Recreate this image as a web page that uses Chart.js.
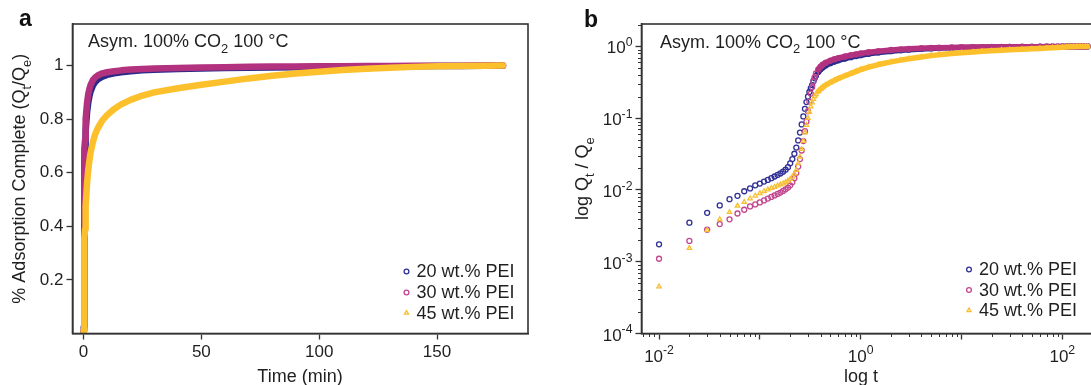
<!DOCTYPE html>
<html><head><meta charset="utf-8">
<script src="https://cdn.jsdelivr.net/npm/chart.js@4.4.1/dist/chart.umd.min.js"></script>
<style>
html,body{margin:0;padding:0;background:#fff;overflow:hidden;width:1091px;height:385px;position:relative;}
#ca{position:absolute;left:0;top:0;}
#cb{position:absolute;left:545px;top:0;}
</style></head><body>
<canvas id="ca" width="545" height="385"></canvas>
<canvas id="cb" width="570" height="385"></canvas>
<script>
// ---------------- data ----------------
const seriesLabels = ['20 wt.% PEI', '30 wt.% PEI', '45 wt.% PEI'];
const timeMin = [0.01,0.02,0.03,0.04,0.05,0.06,0.07,0.08,0.09,0.1,
  0.11,0.12,0.13,0.14,0.15,0.16,0.17,0.18,0.19,0.2,
  0.21,0.22,0.23,0.24,0.25,0.26,0.27,0.28,0.29,0.3,
  0.31,0.32,0.33,0.34,0.35,0.36,0.38,0.4,0.42,0.45,
  0.5,0.55,0.6,0.7,0.8,0.9,1,1.2,1.5,2,
  2.5,3,4,5,6,8,10,13,16,20,
  25,30,40,50,60,70,80,90,100,110,
  120,130,140,150,160,170,178];
const q20 = [0.00175,0.0035,0.0048,0.0061,0.00745,0.0083,0.0096,0.0105,0.0116,0.0123,
  0.0131,0.0138,0.0146,0.0154,0.0162,0.017,0.018,0.0192,0.0208,0.0235,
  0.027,0.032,0.039,0.049,0.063,0.082,0.106,0.135,0.168,0.2,
  0.232,0.262,0.29,0.33,0.36,0.39,0.44,0.48,0.51,0.545,
  0.585,0.615,0.64,0.68,0.71,0.735,0.755,0.79,0.825,0.86,
  0.885,0.903,0.925,0.939,0.948,0.958,0.965,0.971,0.975,0.979,
  0.982,0.984,0.987,0.989,0.991,0.992,0.993,0.994,0.995,0.996,
  0.996,0.997,0.997,0.998,0.998,0.999,0.999];
const q30 = [0.0011,0.00195,0.0028,0.00335,0.0039,0.0047,0.0053,0.0059,0.0063,0.0067,
  0.00715,0.0076,0.008,0.0084,0.0088,0.0092,0.0097,0.0102,0.0108,0.0116,
  0.0128,0.0146,0.0172,0.0212,0.027,0.0355,0.048,0.066,0.09,0.125,
  0.17,0.22,0.27,0.325,0.375,0.42,0.48,0.525,0.56,0.595,
  0.635,0.665,0.69,0.725,0.755,0.778,0.8,0.83,0.86,0.893,
  0.913,0.928,0.946,0.956,0.963,0.971,0.975,0.979,0.982,0.985,
  0.987,0.989,0.991,0.993,0.994,0.995,0.996,0.996,0.997,0.997,
  0.998,0.998,0.999,0.999,0.999,1.0,1.0];
const q45 = [0.00045,0.00155,0.00275,0.0039,0.0049,0.006,0.0068,0.0076,0.0083,0.009,
  0.0096,0.0101,0.0106,0.011,0.0115,0.0119,0.0123,0.0128,0.0134,0.0142,
  0.0152,0.0168,0.019,0.0235,0.029,0.037,0.048,0.063,0.08,0.1,
  0.122,0.145,0.165,0.185,0.202,0.215,0.237,0.255,0.27,0.29,
  0.315,0.337,0.357,0.39,0.42,0.45,0.475,0.515,0.56,0.61,
  0.645,0.675,0.715,0.745,0.765,0.795,0.815,0.838,0.855,0.872,
  0.888,0.9,0.915,0.928,0.94,0.952,0.962,0.97,0.977,0.983,
  0.988,0.992,0.995,0.997,0.998,0.999,1.0];
const xTicksA = [0, 50, 100, 150];
const yTicksA = [0.2, 0.4, 0.6, 0.8, 1];
const xTicksB = [0.01, 0.1, 1, 10, 100];
const xLabelsB = [0.01, 1, 100];
const yTicksB = [0.0001, 0.001, 0.01, 0.1, 1];
const denseFrom = 0.38; // markers merge into a band beyond this time in panel b

// ---------------- styles ----------------
const FONT = '"Liberation Sans", Arial, Helvetica, sans-serif';
const AX = '#333333';
const TXT = '#1f1f1f';
const lineCol = ['#2a2a8a', '#b3327f', '#fcc02c'];
const markCol = ['#2f2f95', '#c2478f', '#f6be33'];
const markStyle = ['circle', 'circle', 'triangle'];
const seriesQ = [q20, q30, q45];

function pts(q, from) {
  const out = [];
  timeMin.forEach((t, i) => { if (from === undefined || t >= from) out.push({x: t, y: q[i]}); });
  return out;
}
function expOf(v) { return String(Math.round(Math.log10(v))); }
function richWidth(ctx, parts, size) {
  let w = 0;
  for (const p of parts) { ctx.font = (p.sub || p.sup ? size * 0.72 : size) + 'px ' + FONT; w += ctx.measureText(p.t).width; }
  return w;
}
function drawRich(ctx, parts, x, y, size, align, rot) {
  ctx.save();
  ctx.translate(x, y);
  if (rot) ctx.rotate(rot);
  const w = richWidth(ctx, parts, size);
  let cx = align === 'center' ? -w / 2 : (align === 'right' ? -w : 0);
  ctx.fillStyle = TXT; ctx.textAlign = 'left'; ctx.textBaseline = 'alphabetic';
  for (const p of parts) {
    const fs = p.sub || p.sup ? size * 0.72 : size;
    ctx.font = fs + 'px ' + FONT;
    ctx.fillText(p.t, cx, p.sub ? size * 0.32 : (p.sup ? -size * 0.42 : 0));
    cx += ctx.measureText(p.t).width;
  }
  ctx.restore();
}
function drawMarker(ctx, style, x, y, r, color, lw) {
  ctx.save();
  ctx.strokeStyle = color; ctx.lineWidth = lw; ctx.beginPath();
  if (style === 'triangle') {
    const edge = 3 * r / Math.sqrt(3), h = edge * Math.sqrt(3) / 2;
    ctx.moveTo(x - edge / 2, y + h / 3); ctx.lineTo(x + edge / 2, y + h / 3); ctx.lineTo(x, y - 2 * h / 3); ctx.closePath();
  } else {
    ctx.arc(x, y, r, 0, Math.PI * 2);
  }
  ctx.stroke();
  ctx.restore();
}

const decor = {
  id: 'decor',
  afterDraw(chart, args, o) {
    const ctx = chart.ctx, a = chart.chartArea;
    ctx.save();
    if (o.logMinor) {
      const xs = chart.scales.x, ys = chart.scales.y;
      // minor log ticks
      ctx.strokeStyle = AX; ctx.lineWidth = 1;
      for (let n = -3; n <= 2; n++) for (let k = 2; k <= 9; k++) {
        const v = k * Math.pow(10, n);
        if (v > xs.min && v < xs.max) {
          const px = Math.round(xs.getPixelForValue(v)) + 0.5;
          ctx.beginPath(); ctx.moveTo(px, a.bottom); ctx.lineTo(px, a.bottom + 3.5); ctx.stroke();
        }
      }
      for (let n = -4; n <= 0; n++) for (let k = 2; k <= 9; k++) {
        const v = k * Math.pow(10, n);
        if (v > ys.min && v < ys.max) {
          const py = Math.round(ys.getPixelForValue(v)) + 0.5;
          ctx.beginPath(); ctx.moveTo(a.left, py); ctx.lineTo(a.left - 3.5, py); ctx.stroke();
        }
      }
      // power-of-ten tick labels with raised exponents
      xLabelsB.forEach(v => {
        drawRich(ctx, [{t:'10'}, {t:expOf(v), sup:true}], xs.getPixelForValue(v), a.bottom + 28, 17, 'center', 0);
      });
      yTicksB.forEach(v => {
        drawRich(ctx, [{t:'10'}, {t:expOf(v), sup:true}], a.left - 9, ys.getPixelForValue(v) + 7, 17, 'right', 0);
      });
    }
    // frame
    ctx.strokeStyle = AX; ctx.lineWidth = 1.6;
    ctx.strokeRect(a.left, a.top, a.right - a.left, a.bottom - a.top);
    // panel letter
    ctx.fillStyle = '#111'; ctx.font = 'bold 23px ' + FONT; ctx.textAlign = 'left'; ctx.textBaseline = 'alphabetic';
    ctx.fillText(o.letter, o.letterX, o.letterY);
    // annotation
    drawRich(ctx, [{t:'Asym. 100% CO'}, {t:'2', sub:true}, {t:' 100 \u00B0C'}], o.noteX, o.noteY, 18, 'left', 0);
    // legend
    ctx.font = '18px ' + FONT; ctx.fillStyle = TXT; ctx.textBaseline = 'middle'; ctx.textAlign = 'left';
    seriesLabels.forEach((lab, i) => {
      const y = o.legY[i];
      drawMarker(ctx, markStyle[i], o.legMX, y, 2.4, markCol[i], 1.3);
      ctx.fillText(lab, o.legTX, y + 1);
    });
    // axis titles
    drawRich(ctx, o.xTitle, o.xTitleX, o.xTitleY, 18, 'center', 0);
    drawRich(ctx, o.yTitle, o.yTitleX, o.yTitleY, 18, 'center', -Math.PI / 2);
    ctx.restore();
  }
};

const tickFont = {family: FONT, size: 17};

// ---------------- panel a ----------------
const dsA = [2, 1, 0].map(i => ({
  label: seriesLabels[i],
  data: pts(seriesQ[i]),
  showLine: true,
  borderColor: lineCol[i],
  backgroundColor: lineCol[i],
  borderWidth: 6.5,
  pointRadius: 0,
  borderJoinStyle: 'round',
  borderCapStyle: 'round',
  order: 2 - i
}));

new Chart(document.getElementById('ca'), {
  type: 'scatter',
  data: {datasets: dsA},
  options: {
    responsive: false, animation: false,
    layout: {padding: {top: 24, right: 17, bottom: 0, left: 0}},
    plugins: {
      legend: {display: false}, tooltip: {enabled: false},
      decor: {
        letter: 'a', letterX: 19, letterY: 26,
        noteX: 88, noteY: 47,
        legMX: 406.5, legTX: 416.5, legY: [271.5, 292.5, 313],
        xTitle: [{t:'Time (min)'}], xTitleX: 300, xTitleY: 382,
        yTitle: [{t:'% Adsorption Complete (Q'}, {t:'t', sub:true}, {t:'/Q'}, {t:'e', sub:true}, {t:')'}],
        yTitleX: 25, yTitleY: 178.7
      }
    },
    scales: {
      x: {
        type: 'linear', min: -4.67, max: 188.6,
        afterBuildTicks: s => { s.ticks = xTicksA.map(v => ({value: v})); },
        afterFit: s => { s.height = 51.5; },
        grid: {drawOnChartArea: false, drawTicks: true, tickLength: 6, tickColor: AX, tickWidth: 1.3},
        border: {display: true, color: AX, width: 1.6},
        ticks: {color: TXT, font: tickFont, padding: 3, maxRotation: 0, autoSkip: false, callback: v => String(v)}
      },
      y: {
        type: 'linear', min: 0, max: 1.155,
        afterBuildTicks: s => { s.ticks = yTicksA.map(v => ({value: v})); },
        afterFit: s => { s.width = 72.5; },
        grid: {drawOnChartArea: false, drawTicks: true, tickLength: 6, tickColor: AX, tickWidth: 1.3},
        border: {display: true, color: AX, width: 1.6},
        ticks: {color: TXT, font: tickFont, padding: 3, autoSkip: false, callback: v => (v === 1 ? '1' : v.toFixed(1))}
      }
    }
  },
  plugins: [decor]
});

// ---------------- panel b ----------------
const dsB = [];
[2, 1, 0].forEach(i => {
  dsB.push({
    label: seriesLabels[i] + ' band',
    data: pts(seriesQ[i], denseFrom),
    showLine: true,
    borderColor: lineCol[i],
    borderWidth: 5.5,
    pointRadius: 0,
    borderJoinStyle: 'round',
    borderCapStyle: 'round',
    order: (2 - i) * 2
  });
  dsB.push({
    label: seriesLabels[i],
    data: pts(seriesQ[i]),
    showLine: false,
    pointStyle: markStyle[i],
    pointRadius: 2.5,
    pointBorderWidth: 1.3,
    pointBorderColor: markCol[i],
    pointBackgroundColor: 'rgba(255,255,255,0)',
    order: (2 - i) * 2 + 1
  });
});

new Chart(document.getElementById('cb'), {
  type: 'scatter',
  data: {datasets: dsB},
  options: {
    responsive: false, animation: false,
    layout: {padding: {top: 24, right: 17.5, bottom: 0, left: 0}},
    plugins: {
      legend: {display: false}, tooltip: {enabled: false},
      decor: {
        logMinor: true,
        letter: 'b', letterX: 584 - 545, letterY: 27,
        noteX: 660 - 545, noteY: 47.5,
        legMX: 969 - 545, legTX: 979 - 545, legY: [269.5, 290, 310.5],
        xTitle: [{t:'log t'}], xTitleX: 861 - 545, xTitleY: 382,
        yTitle: [{t:'log Q'}, {t:'t', sub:true}, {t:' / Q'}, {t:'e', sub:true}],
        yTitleX: 588 - 545, yTitleY: 178.7
      }
    },
    scales: {
      x: {
        type: 'logarithmic', min: 0.0067, max: 223.4,
        afterBuildTicks: s => { s.ticks = xTicksB.map(v => ({value: v})); },
        afterFit: s => { s.height = 51.5; },
        grid: {drawOnChartArea: false, drawTicks: true, tickLength: 6, tickColor: AX, tickWidth: 1.3},
        border: {display: true, color: AX, width: 1.6},
        ticks: {display: false}
      },
      y: {
        type: 'logarithmic', min: 0.0001, max: 2.056,
        afterBuildTicks: s => { s.ticks = yTicksB.map(v => ({value: v})); },
        afterFit: s => { s.width = 96.5; },
        grid: {drawOnChartArea: false, drawTicks: true, tickLength: 6, tickColor: AX, tickWidth: 1.3},
        border: {display: true, color: AX, width: 1.6},
        ticks: {display: false}
      }
    }
  },
  plugins: [decor]
});
</script>
</body></html>
